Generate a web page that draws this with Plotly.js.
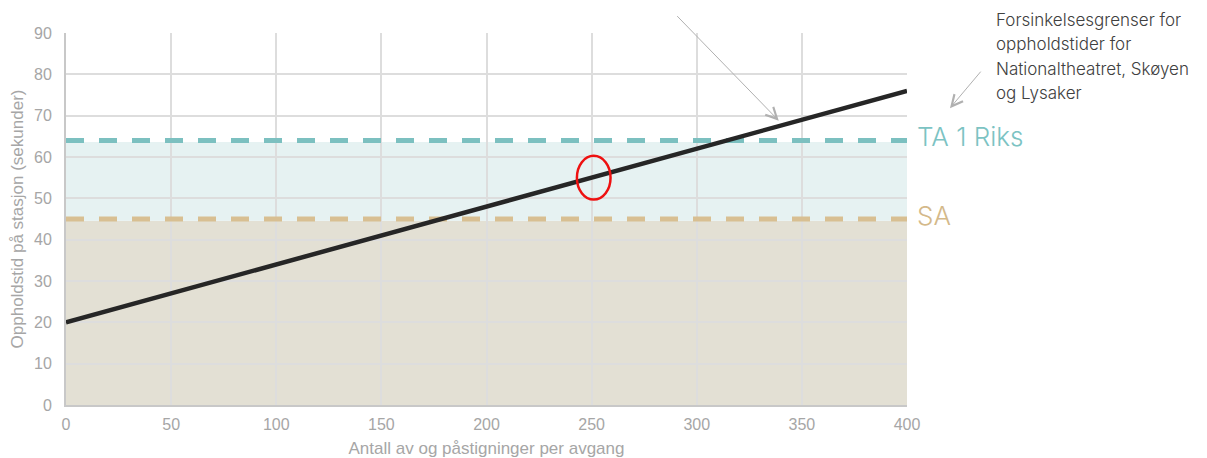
<!DOCTYPE html>
<html>
<head>
<meta charset="utf-8">
<script src="https://cdn.plot.ly/plotly-3.0.1.min.js"></script>
<style>html,body{margin:0;padding:0;background:#fff}#chart{width:1207px;height:458px}</style>
</head>
<body>
<div id="chart"></div>
<script>
// Data
const lineX = [0, 400];
const lineY = [20, 76];
const taLimit = 64;
const saLimit = 45;
const limitX = [0, 400];
const highlightX = 251;
const highlightY = 55;
const xTicks = [0, 50, 100, 150, 200, 250, 300, 350, 400];
const yTicks = [0, 10, 20, 30, 40, 50, 60, 70, 80, 90];
const noteLines = ["Forsinkelsesgrenser for", "oppholdstider for", "Nationaltheatret, Skøyen", "og Lysaker"];

const FONT = "Inter, 'Liberation Sans', sans-serif";
const yMax = 90;

const traces = [
  {x: limitX, y: [taLimit, taLimit], mode: 'lines', line: {color: '#7cc0c0', width: 5, dash: '18px,15px'}, hoverinfo: 'skip', showlegend: false},
  {x: limitX, y: [saLimit, saLimit], mode: 'lines', line: {color: '#d8bf92', width: 5, dash: '18px,15px'}, hoverinfo: 'skip', showlegend: false},
  {x: lineX, y: lineY, mode: 'lines', line: {color: '#262626', width: 4.5}, hoverinfo: 'skip', showlegend: false}
];

const annotations = [
  {x: 339, y: 68.8, xref: 'x', yref: 'y', ax: -103, ay: -106, text: '', showarrow: true,
   arrowhead: 5, arrowsize: 2.2, arrowwidth: 1, arrowcolor: '#b0b0b0'},
  {x: 1.0511, y: 0.798, xref: 'paper', yref: 'paper', ax: 32, ay: -38, text: '', showarrow: true,
   arrowhead: 5, arrowsize: 2.2, arrowwidth: 1, arrowcolor: '#b0b0b0'},
  {x: 1.009, y: taLimit / yMax, xref: 'paper', yref: 'paper', text: 'TA 1 Riks', showarrow: false, xanchor: 'left', yanchor: 'middle',
   font: {family: FONT, size: 26, color: '#7cc3c3', weight: 300}, yshift: 4},
  {x: 1.009, y: saLimit / yMax, xref: 'paper', yref: 'paper', text: 'SA', showarrow: false, xanchor: 'left', yanchor: 'middle',
   font: {family: FONT, size: 26, color: '#d4b98a', weight: 300}, yshift: 4}
];
const noteY0 = 20, noteStep = 24.5;
noteLines.forEach((t, i) => {
  annotations.push({xref: 'paper', yref: 'paper', x: (994 - 66) / (907 - 66), y: 1 + (33 - (noteY0 + i * noteStep)) / 372,
    text: t, showarrow: false, xanchor: 'left', yanchor: 'middle',
    font: {family: FONT, size: 17, color: '#404040', weight: 300}});
});

const layout = {
  width: 1207, height: 458,
  margin: {l: 66, r: 300, t: 33, b: 53},
  paper_bgcolor: '#fff', plot_bgcolor: '#fff',
  font: {family: "'Liberation Sans', Arial, sans-serif", color: '#a6a6a6', size: 16},
  xaxis: {range: [0, 400], tickvals: xTicks, ticktext: xTicks.map(String), showgrid: true, gridcolor: '#dddddd', gridwidth: 2,
    zeroline: false, showline: true, linecolor: '#c8c8c8', linewidth: 2, ticks: '', ticklabelstandoff: 4,
    tickfont: {size: 16, color: '#a6a6a6'},
    title: {text: 'Antall av og påstigninger per avgang', font: {size: 17, color: '#a6a6a6'}, standoff: 13}},
  yaxis: {range: [0, yMax], tickvals: yTicks, ticktext: yTicks.map(String), showgrid: true, gridcolor: '#dddddd', gridwidth: 2,
    zeroline: false, showline: true, linecolor: '#c8c8c8', linewidth: 2, ticks: '', ticklabelstandoff: 9,
    tickfont: {size: 16, color: '#a6a6a6'},
    title: {text: 'Oppholdstid på stasjon (sekunder)', font: {size: 17, color: '#a6a6a6'}, standoff: 6}},
  shapes: [
    {type: 'rect', xref: 'x', yref: 'y', x0: 0, x1: 400, y0: 0, y1: saLimit - 0.4, fillcolor: '#e3e0d4', line: {width: 0}, layer: 'below'},
    {type: 'rect', xref: 'x', yref: 'y', x0: 0, x1: 400, y0: saLimit - 0.4, y1: taLimit - 0.4, fillcolor: '#e6f2f2', line: {width: 0}, layer: 'below'},
    {type: 'circle', xref: 'x', yref: 'y', x0: highlightX - 8, x1: highlightX + 8, y0: highlightY - 5.3, y1: highlightY + 5.3,
     line: {color: '#ee1111', width: 2.5}, layer: 'above'}
  ],
  annotations: annotations,
  showlegend: false
};

Plotly.newPlot('chart', traces, layout, {displayModeBar: false, staticPlot: true});
</script>
</body>
</html>
